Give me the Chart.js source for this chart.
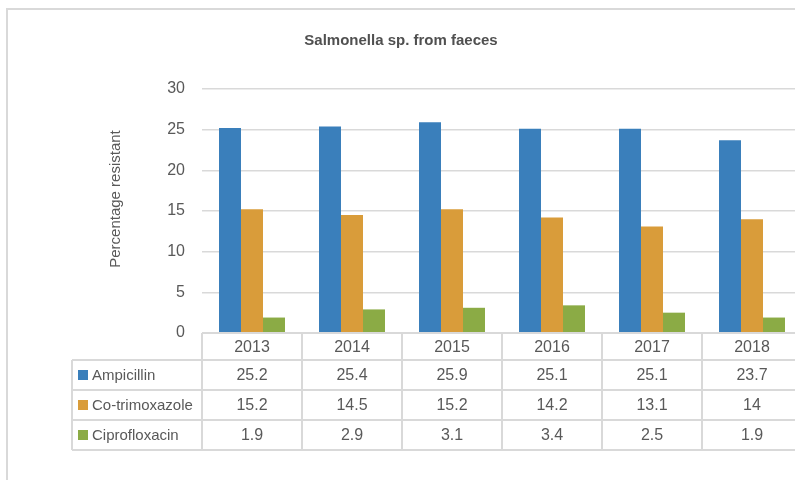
<!DOCTYPE html>
<html>
<head>
<meta charset="utf-8">
<script src="https://cdn.jsdelivr.net/npm/chart.js@4/dist/chart.umd.min.js"></script>
<style>
  html, body { margin: 0; padding: 0; background: #fff; overflow: hidden; }
  #frame { position: absolute; left: 6px; top: 8px; width: 900px; height: 600px; border: 2px solid #d9d9d9; }
  #wrap { position: absolute; left: 0; top: 0; width: 810px; height: 480px; }
</style>
</head>
<body>
<div id="frame"></div>
<div id="wrap"><canvas id="resistance-chart"></canvas></div>
<script>
const years = ['2013', '2014', '2015', '2016', '2017', '2018'];
const ampicillin = [25.2, 25.4, 25.9, 25.1, 25.1, 23.7];
const cotrimoxazole = [15.2, 14.5, 15.2, 14.2, 13.1, 14];
const ciprofloxacin = [1.9, 2.9, 3.1, 3.4, 2.5, 1.9];
const seriesNames = ['Ampicillin', 'Co-trimoxazole', 'Ciprofloxacin'];
const seriesColors = ['#3a7fbb', '#d99c3a', '#8bab45'];

const FONT = "'Liberation Sans', Arial, sans-serif";
const TEXT = '#595959';
const LINE = '#d9d9d9';

// data table under the plot, columns follow the category scale
const dataTable = {
    id: 'dataTable',
    afterDraw(chart) {
        const ctx = chart.ctx;
        const area = chart.chartArea;
        const xs = chart.scales.x;
        const colW = (area.right - area.left) / years.length;
        const headerH = 27;
        const rowH = 30;
        const tableLeft = 72;
        const top = area.bottom;
        const bottom = top + headerH + rowH * chart.data.datasets.length;

        ctx.save();
        ctx.strokeStyle = LINE;
        ctx.lineWidth = 2;
        ctx.beginPath();
        ctx.moveTo(area.left, top);
        ctx.lineTo(area.right, top);
        for (let r = 0; r <= chart.data.datasets.length; r++) {
            const y = top + headerH + rowH * r;
            ctx.moveTo(tableLeft, y);
            ctx.lineTo(area.right, y);
        }
        for (let i = 0; i <= years.length; i++) {
            const x = area.left + colW * i;
            ctx.moveTo(x, top);
            ctx.lineTo(x, bottom);
        }
        ctx.moveTo(tableLeft, top + headerH);
        ctx.lineTo(tableLeft, bottom);
        ctx.stroke();

        ctx.fillStyle = TEXT;
        ctx.font = '16px ' + FONT;
        ctx.textAlign = 'center';
        ctx.textBaseline = 'middle';
        years.forEach((yr, i) => {
            ctx.fillText(yr, xs.getPixelForValue(i), top + headerH / 2 + 1);
        });

        chart.data.datasets.forEach((ds, r) => {
            const cy = top + headerH + rowH * r + rowH / 2 + 1;
            ctx.textAlign = 'center';
            ctx.fillStyle = TEXT;
            ds.data.forEach((v, i) => {
                ctx.fillText(String(v), xs.getPixelForValue(i), cy);
            });
            ctx.fillStyle = ds.backgroundColor;
            ctx.fillRect(tableLeft + 6, cy - 6, 10, 10);
            ctx.fillStyle = TEXT;
            ctx.textAlign = 'left';
            ctx.font = '15px ' + FONT;
            ctx.fillText(ds.label, tableLeft + 20, cy);
            ctx.font = '16px ' + FONT;
        });

        // y axis caption
        ctx.translate(116, 199);
        ctx.rotate(-Math.PI / 2);
        ctx.textAlign = 'center';
        ctx.font = '15px ' + FONT;
        ctx.fillText('Percentage resistant', 0, 0);
        ctx.restore();
    }
};

const ctx = document.getElementById('resistance-chart').getContext('2d');
new Chart(ctx, {
    type: 'bar',
    data: {
        labels: years,
        datasets: [ampicillin, cotrimoxazole, ciprofloxacin].map((vals, i) => ({
            label: seriesNames[i],
            data: vals,
            backgroundColor: seriesColors[i],
            barPercentage: 1,
            categoryPercentage: 0.66
        }))
    },
    options: {
        responsive: true,
        maintainAspectRatio: false,
        animation: false,
        layout: { padding: { left: 0, right: 8, top: 0, bottom: 147 } },
        plugins: {
            legend: { display: false },
            tooltip: { enabled: false },
            title: {
                display: true,
                text: 'Salmonella sp. from faeces',
                color: '#505050',
                font: { family: FONT, size: 15, weight: 'bold' },
                padding: { top: 32, bottom: 39 }
            }
        },
        scales: {
            x: { display: false },
            y: {
                min: 0,
                max: 30,
                ticks: { stepSize: 5, padding: 17, color: TEXT, font: { family: FONT, size: 16 } },
                grid: { color: LINE, lineWidth: 1.5, drawTicks: false },
                border: { display: false },
                afterFit(scale) { scale.width = 202; }
            }
        }
    },
    plugins: [dataTable]
});
</script>
</body>
</html>
